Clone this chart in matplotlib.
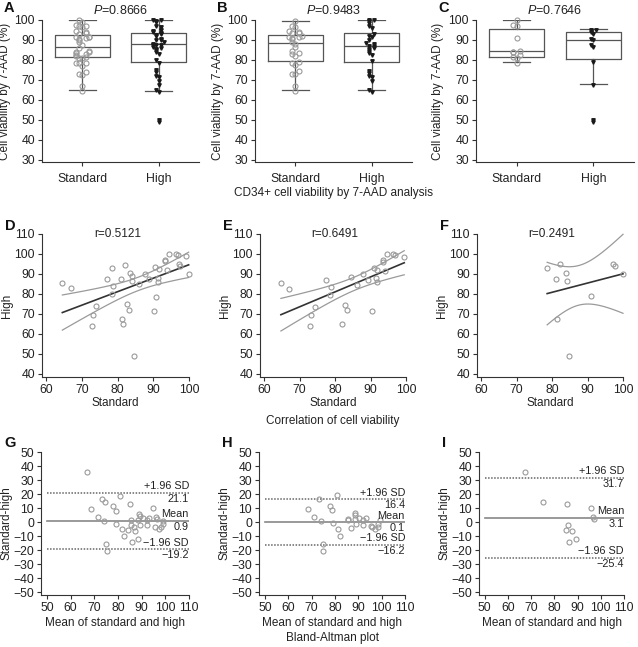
import numpy as np
import matplotlib
matplotlib.use("Agg")
import matplotlib.pyplot as plt

plt.rcParams['font.family'] = ['Liberation Sans', 'DejaVu Sans']
plt.rcParams['mathtext.fontset'] = 'custom'
plt.rcParams['mathtext.it'] = 'Liberation Sans:italic'
plt.rcParams['mathtext.rm'] = 'Liberation Sans'

# ---- data ----
# paired viability values (standard, high) for each group
std_d = [64.5, 66.8, 77.0, 78.5, 78.6, 78.4, 82.0, 80.9, 83.5, 84.0, 84.0, 82.6, 83.2,
         81.2, 81.6, 84.5, 74.0, 73.0, 72.7, 86.0, 87.7, 88.8, 90.5, 91.7, 91.3, 91.3,
         90.8, 90.1, 93.2, 93.3, 94.3, 93.9, 96.3, 96.8, 97.1, 97.6, 99.2, 99.9]
high_d = [85.7, 83.0, 87.5, 93.2, 83.8, 80.0, 94.7, 87.5, 90.5, 88.8, 86.3, 74.8, 72.2,
          67.7, 65.2, 49.2, 73.8, 69.7, 64.2, 84.8, 90.0, 87.5, 93.5, 92.7, 88.0, 85.8,
          78.5, 71.7, 97.2, 96.3, 100.0, 91.8, 100.0, 99.7, 95.2, 93.8, 98.8, 90.0]

std_e = [64.7, 67.0, 77.3, 78.8, 78.5, 74.3, 73.1, 73.0, 82.0, 82.8, 83.4, 84.4, 86.3, 88.0,
         89.2, 90.4, 91.0, 91.9, 91.4, 91.7, 93.4, 93.5, 94.7, 94.1, 96.4, 97.0, 99.5]
high_e = [85.5, 82.7, 87.2, 83.5, 79.7, 73.3, 69.5, 63.8, 65.0, 74.7, 71.8, 88.5, 84.5, 89.8,
          87.2, 71.3, 93.2, 92.2, 87.8, 85.8, 96.8, 96.0, 100.0, 91.7, 100.0, 99.5, 98.3]

std_f = [78.6, 81.2, 82.3, 83.8, 84.2, 81.5, 84.7, 91.0, 97.2, 97.7, 100.0]
high_f = [93.0, 87.5, 95.0, 90.5, 86.7, 67.7, 49.2, 78.8, 95.2, 93.8, 90.0]

# box statistics (whislo, q1, med, q3, whishi, outliers) for standard / high
box_a = [(65.2, 81.3, 86.6, 92.7, 100.0, []), (64.7, 79.1, 87.9, 93.5, 100.0, [49.9])]
box_b = [(65.2, 79.3, 88.4, 92.5, 99.7, []), (64.8, 78.9, 87.0, 93.4, 100.0, [])]
box_c = [(78.8, 81.6, 84.3, 95.5, 100.0, []), (68.0, 80.6, 90.0, 93.9, 95.4, [50.0])]
p_values = ['0.8666', '0.9483', '0.7646']
r_values = ['0.5121', '0.6491', '0.2491']

# Bland-Altman points: mean of standard and high, difference standard-high
ba_mean_g = [66.9, 68.5, 71.5, 73.4, 74.6, 74.2, 75.0, 75.3, 77.8, 79.0, 79.3, 80.9, 81.5,
             82.5, 85.0, 84.3, 85.4, 85.7, 86.0, 86.7, 87.4, 88.6, 88.8, 89.2, 88.5, 89.2,
             90.4, 92.3, 92.3, 93.1, 95.0, 95.5, 96.1, 96.3, 97.2, 98.3, 98.9, 99.2]
ba_diff_g = [35.8, 9.0, 3.8, 16.8, 14.0, 0.7, -15.9, -20.4, 11.4, 8.0, -1.0, 18.5, -4.7,
             -10.0, 12.6, -5.7, 1.8, -2.1, -14.2, -3.8, -6.4, 1.8, 5.7, 4.0, -11.8, -2.1,
             2.6, 1.4, -2.1, 2.6, 10.0, -3.3, 3.8, 2.4, -5.2, -3.3, -1.7, 0.5]
ba_mean_h = [68.3, 71.0, 73.3, 73.9, 77.7, 78.9, 79.0, 80.9, 81.3, 82.3, 74.9, 75.0, 85.5,
             85.7, 86.7, 88.7, 88.8, 88.4, 89.1, 90.2, 92.2, 92.2, 93.2, 95.5, 95.9, 97.3,
             98.3, 98.6, 99.5]
ba_diff_h = [9.0, 3.8, 16.8, 1.0, 11.4, 8.5, -0.7, 19.2, -5.0, -9.7, -15.6, -20.6, 2.1,
             1.4, -4.3, 6.2, 5.0, 1.9, -1.4, 3.1, -2.1, 1.4, 2.8, -2.8, -3.8, -4.7,
             -3.8, -1.7, 1.7]
ba_mean_i = [67.2, 75.0, 85.3, 85.8, 85.0, 87.8, 89.1, 86.4, 95.8, 96.6, 97.1]
ba_diff_i = [35.8, 14.2, 12.6, -2.1, -5.9, -6.4, -11.8, -14.2, 10.2, 3.8, 2.1]
# mean difference, +1.96 SD, -1.96 SD
ba_lines = [(0.9, 21.1, -19.2), (0.1, 16.4, -16.2), (3.1, 31.7, -25.4)]

# t critical values (two-sided 95%) by degrees of freedom
t_crit = {36: 2.028, 35: 2.030, 25: 2.060, 9: 2.262}

W, H = 638, 647
fig = plt.figure(figsize=(W / 100, H / 100), dpi=100)
TXT = '#222222'
FS = 8.5


def px_axes(l, t, r, b):
    return fig.add_axes([l / W, 1 - b / H, (r - l) / W, (b - t) / H])


def style(ax):
    for s in ['top', 'right']:
        ax.spines[s].set_visible(False)
    for s in ['left', 'bottom']:
        ax.spines[s].set_color('#333333')
        ax.spines[s].set_linewidth(0.8)
    ax.tick_params(length=3, width=0.8, color='#333333', labelsize=FS + 0.3, labelcolor=TXT, pad=2)


def swarm(vals, step=0.045):
    # small horizontal spread for close values
    order = np.argsort(vals)
    offs = np.zeros(len(vals))
    pattern = [0, -1, 1, -2, 2, -3, 3]
    placed = []
    for i in order:
        k = sum(1 for v in placed if abs(v - vals[i]) < 1.6)
        offs[i] = pattern[k % len(pattern)] * step
        placed.append(vals[i])
    return offs


# ---- row 1: box plots ----
row1 = [(42, 199, box_a, std_d, high_d, 'A'),
        (255, 412, box_b, std_e, high_e, 'B'),
        (476, 634, box_c, std_f, high_f, 'C')]
for i, (l, r, box, s_pts, h_pts, lab) in enumerate(row1):
    ax = px_axes(l, 20, r, 162)
    style(ax)
    stats = []
    for (lo, q1, med, q3, hi, fl) in box:
        stats.append(dict(whislo=lo, q1=q1, med=med, q3=q3, whishi=hi, fliers=[]))
    ax.bxp(stats, positions=[1, 2], widths=0.72, showfliers=False,
           boxprops=dict(color='#555555', linewidth=0.9),
           whiskerprops=dict(color='#555555', linewidth=0.9),
           capprops=dict(color='#555555', linewidth=0.9),
           medianprops=dict(color='#555555', linewidth=0.9))
    s_pts = np.array(s_pts)
    h_pts = np.array(h_pts)
    ax.plot(1 + swarm(s_pts), s_pts, 'o', ms=3.6, mfc='none', mec='#9a9a9a', mew=0.8,
            clip_on=False, zorder=3)
    ax.plot(2 + swarm(h_pts, 0.035), h_pts, 'v', ms=2.5, color='#1a1a1a', clip_on=False, zorder=3)
    for fl in box[1][5]:
        ax.plot(2, fl, 'v', ms=2.5, color='#1a1a1a', clip_on=False, zorder=3)
    ax.set_xlim(0.47, 2.53)
    ax.set_ylim(29, 100)
    ax.set_yticks(np.arange(30, 101, 10))
    ax.set_xticks([1, 2])
    ax.set_xticklabels(['Standard', 'High'])
    ax.tick_params(axis='x', pad=5)
    ax.set_ylabel('Cell viability by 7-AAD (%)', fontsize=FS, color=TXT)
    ax.yaxis.set_label_coords(-0.2, 0.5)
    ax.text(0.5, 1.07, r'$P$=' + p_values[i], transform=ax.transAxes, ha='center',
            va='center', fontsize=FS + 0.5, color=TXT)
    fig.text((l - 38) / W, 1 - 8 / H, lab, fontsize=10.5, fontweight='bold', va='center', color='#111111')
fig.text(333 / W, 1 - 193 / H, 'CD34+ cell viability by 7-AAD analysis', ha='center',
         va='center', fontsize=FS, color=TXT)

# ---- row 2: correlation ----
row2 = [(42, 189, std_d, high_d, 'D'), (260, 406, std_e, high_e, 'E'), (477, 623, std_f, high_f, 'F')]
for i, (l, r, xs, ys, lab) in enumerate(row2):
    ax = px_axes(l, 234, r, 377)
    style(ax)
    xs = np.array(xs)
    ys = np.array(ys)
    ax.plot(xs, ys, 'o', ms=3.6, mfc='none', mec='#9a9a9a', mew=0.8, clip_on=False, zorder=3)
    # least squares fit with 95% confidence band of the mean
    n = len(xs)
    b, a = np.polyfit(xs, ys, 1)
    resid = ys - (a + b * xs)
    s = np.sqrt(np.sum(resid ** 2) / (n - 2))
    sxx = np.sum((xs - xs.mean()) ** 2)
    gx = np.linspace(xs.min(), xs.max(), 100)
    gy = a + b * gx
    half = t_crit.get(n - 2, 2.0) * s * np.sqrt(1 / n + (gx - xs.mean()) ** 2 / sxx)
    ax.plot(gx, gy, color='#333333', lw=1.2, clip_on=False)
    ax.plot(gx, gy + half, color='#9a9a9a', lw=0.9, clip_on=False)
    ax.plot(gx, gy - half, color='#9a9a9a', lw=0.9, clip_on=False)
    ax.set_xlim(58.8, 100)
    ax.set_ylim(38.5, 110)
    ax.set_xticks(np.arange(60, 101, 10))
    ax.set_yticks(np.arange(40, 111, 10))
    ax.set_xlabel('Standard', fontsize=FS, color=TXT, labelpad=1)
    ax.set_ylabel('High', fontsize=FS, color=TXT)
    ax.yaxis.set_label_coords(-0.2, 0.5)
    ax.text(80, 110, 'r=' + r_values[i], ha='center', va='center', fontsize=FS, color=TXT)
    fig.text((l - 37) / W, 1 - 226 / H, lab, fontsize=10.5, fontweight='bold', va='center', color='#111111')
fig.text(333 / W, 1 - 421 / H, 'Correlation of cell viability', ha='center',
         va='center', fontsize=FS, color=TXT)

# ---- row 3: Bland-Altman ----
row3 = [(41, 189, ba_mean_g, ba_diff_g, 'G'), (259, 405, ba_mean_h, ba_diff_h, 'H'),
        (479, 624, ba_mean_i, ba_diff_i, 'I')]
for i, (l, r, mx, dy, lab) in enumerate(row3):
    ax = px_axes(l, 452, r, 595)
    style(ax)
    mean, up, lo = ba_lines[i]
    ax.axhline(mean, xmin=0.04, color='#888888', lw=1.2)
    ax.axhline(up, xmin=0.04, color='#666666', lw=1.1, ls=(0, (1, 1)))
    ax.axhline(lo, xmin=0.04, color='#666666', lw=1.1, ls=(0, (1, 1)))
    ax.plot(mx, dy, 'o', ms=3.6, mfc='none', mec='#9a9a9a', mew=0.8, clip_on=False, zorder=3)
    for yv, top in [(up, '+1.96 SD'), (mean, 'Mean'), (lo, '\u22121.96 SD')]:
        ax.annotate(top, (110, yv), xytext=(0, 1), textcoords='offset points', ha='right',
                    va='bottom', fontsize=7.8, color=TXT)
        ax.annotate(f'{yv:.1f}'.replace('-', '\u2212'), (110, yv), xytext=(0, -1),
                    textcoords='offset points', ha='right', va='top', fontsize=7.8, color=TXT)
    ax.set_xlim(47.5, 110)
    ax.set_ylim(-52, 50)
    ax.set_xticks(np.arange(50, 111, 10))
    ax.set_yticks(np.arange(-50, 51, 10))
    ax.set_xlabel('Mean of standard and high', fontsize=FS, color=TXT, labelpad=2)
    ax.set_ylabel('Standard-high', fontsize=FS, color=TXT)
    ax.yaxis.set_label_coords(-0.195, 0.5)
    fig.text((l - 37) / W, 1 - 443 / H, lab, fontsize=10.5, fontweight='bold', va='center', color='#111111')
fig.text(333 / W, 1 - 638 / H, 'Bland-Altman plot', ha='center', va='center', fontsize=FS, color=TXT)

fig.savefig('out.png', dpi=100)
